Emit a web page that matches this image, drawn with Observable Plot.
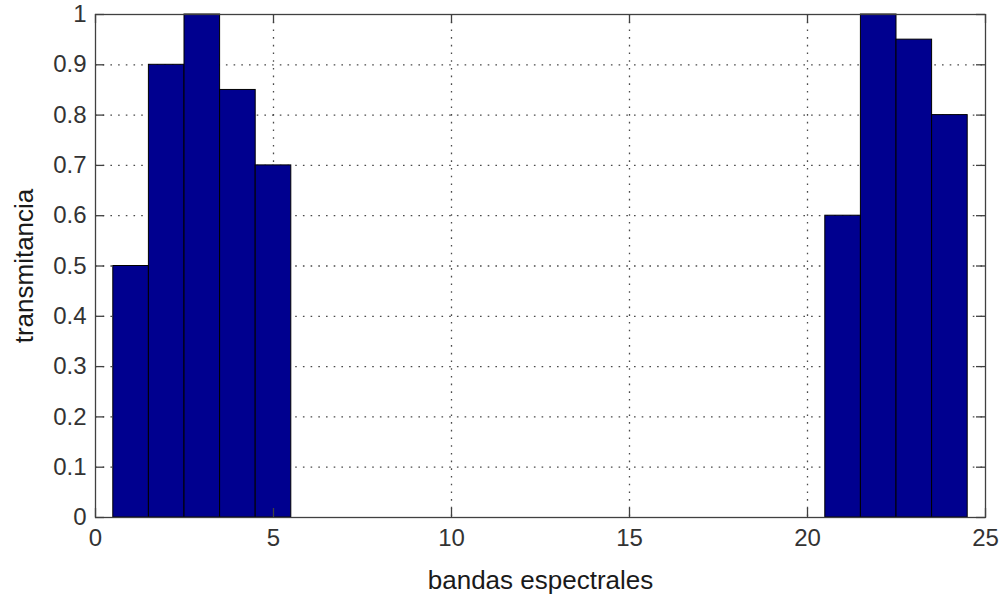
<!DOCTYPE html>
<html>
<head>
<meta charset="utf-8">
<script src="https://cdn.jsdelivr.net/npm/d3@7"></script>
<script src="https://cdn.jsdelivr.net/npm/@observablehq/plot@0.6"></script>
<style>
  html, body { margin: 0; padding: 0; background: #fff; }
  #chart svg { display: block; }
</style>
</head>
<body>
<div id="chart"></div>
<script>
// Spectral bands and their transmittance
const bands = [1, 2, 3, 4, 5, 21, 22, 23, 24];
const transmitancia = [0.5, 0.9, 1.0, 0.85, 0.7, 0.6, 1.0, 0.95, 0.8];

// Axis ticks
const xTicks = [0, 5, 10, 15, 20, 25];
const yTicks = [0, 0.1, 0.2, 0.3, 0.4, 0.5, 0.6, 0.7, 0.8, 0.9, 1];
const yTickLabels = ["0", "0.1", "0.2", "0.3", "0.4", "0.5", "0.6", "0.7", "0.8", "0.9", "1"];
const xGrid = [5, 10, 15, 20];
const yGrid = [0.1, 0.2, 0.3, 0.4, 0.5, 0.6, 0.7, 0.8, 0.9];

const xTitle = "bandas espectrales";
const yTitle = "transmitancia";

const data = bands.map((b, i) => ({band: b, value: transmitancia[i]}));

const W = 1005, H = 597;
const mL = 95, mR = 20, mT = 14, mB = 80;
const innerW = W - mL - mR, innerH = H - mT - mB;
const tickLen = 9;
const axisColor = "#404040";
const gridStyle = {stroke: "#4a4a4a", strokeOpacity: 1, strokeWidth: 1.3, strokeDasharray: "1.6,6.1"};

const chart = Plot.plot({
  width: W,
  height: H,
  marginLeft: mL,
  marginRight: mR,
  marginTop: mT,
  marginBottom: mB,
  style: {fontFamily: "Liberation Sans, Arial, sans-serif", fontSize: "24px", background: "#fff"},
  x: {domain: [0, 25]},
  y: {domain: [0, 1]},
  marks: [
    // dotted grid
    Plot.gridX(xGrid, gridStyle),
    Plot.gridY(yGrid, gridStyle),
    // bars, one unit wide centred on each band
    Plot.rect(data, {
      x1: d => d.band - 0.5,
      x2: d => d.band + 0.5,
      y1: 0,
      y2: "value",
      fill: "#00008f",
      stroke: "#000",
      strokeWidth: 1
    }),
    // inward ticks on all four sides
    Plot.tickX(xTicks, {x: d => d, insetTop: innerH - tickLen, stroke: axisColor, strokeWidth: 1.3}),
    Plot.tickX(xTicks, {x: d => d, insetBottom: innerH - tickLen, stroke: axisColor, strokeWidth: 1.3}),
    Plot.tickY(yTicks, {y: d => d, insetRight: innerW - tickLen, stroke: axisColor, strokeWidth: 1.3}),
    Plot.tickY(yTicks, {y: d => d, insetLeft: innerW - tickLen, stroke: axisColor, strokeWidth: 1.3}),
    // tick labels
    Plot.axisX(xTicks, {tickSize: 0, tickPadding: 11, label: null, fill: "#333", fontSize: 24}),
    Plot.axisY(yTicks, {tickSize: 0, tickPadding: 9, label: null, fill: "#333", fontSize: 24,
      tickFormat: d => yTickLabels[yTicks.indexOf(d)]}),
    Plot.frame({stroke: axisColor, strokeWidth: 1.3}),
    // axis titles
    Plot.text([xTitle], {frameAnchor: "bottom", lineAnchor: "middle", textAnchor: "middle",
      dy: 63, fill: "#1a1a1a", fontSize: 26}),
    Plot.text([yTitle], {frameAnchor: "left", lineAnchor: "middle", textAnchor: "middle",
      dx: -71, rotate: -90, fill: "#1a1a1a", fontSize: 26, letterSpacing: "1.6px"})
  ]
});

document.getElementById("chart").appendChild(chart);
</script>
</body>
</html>
